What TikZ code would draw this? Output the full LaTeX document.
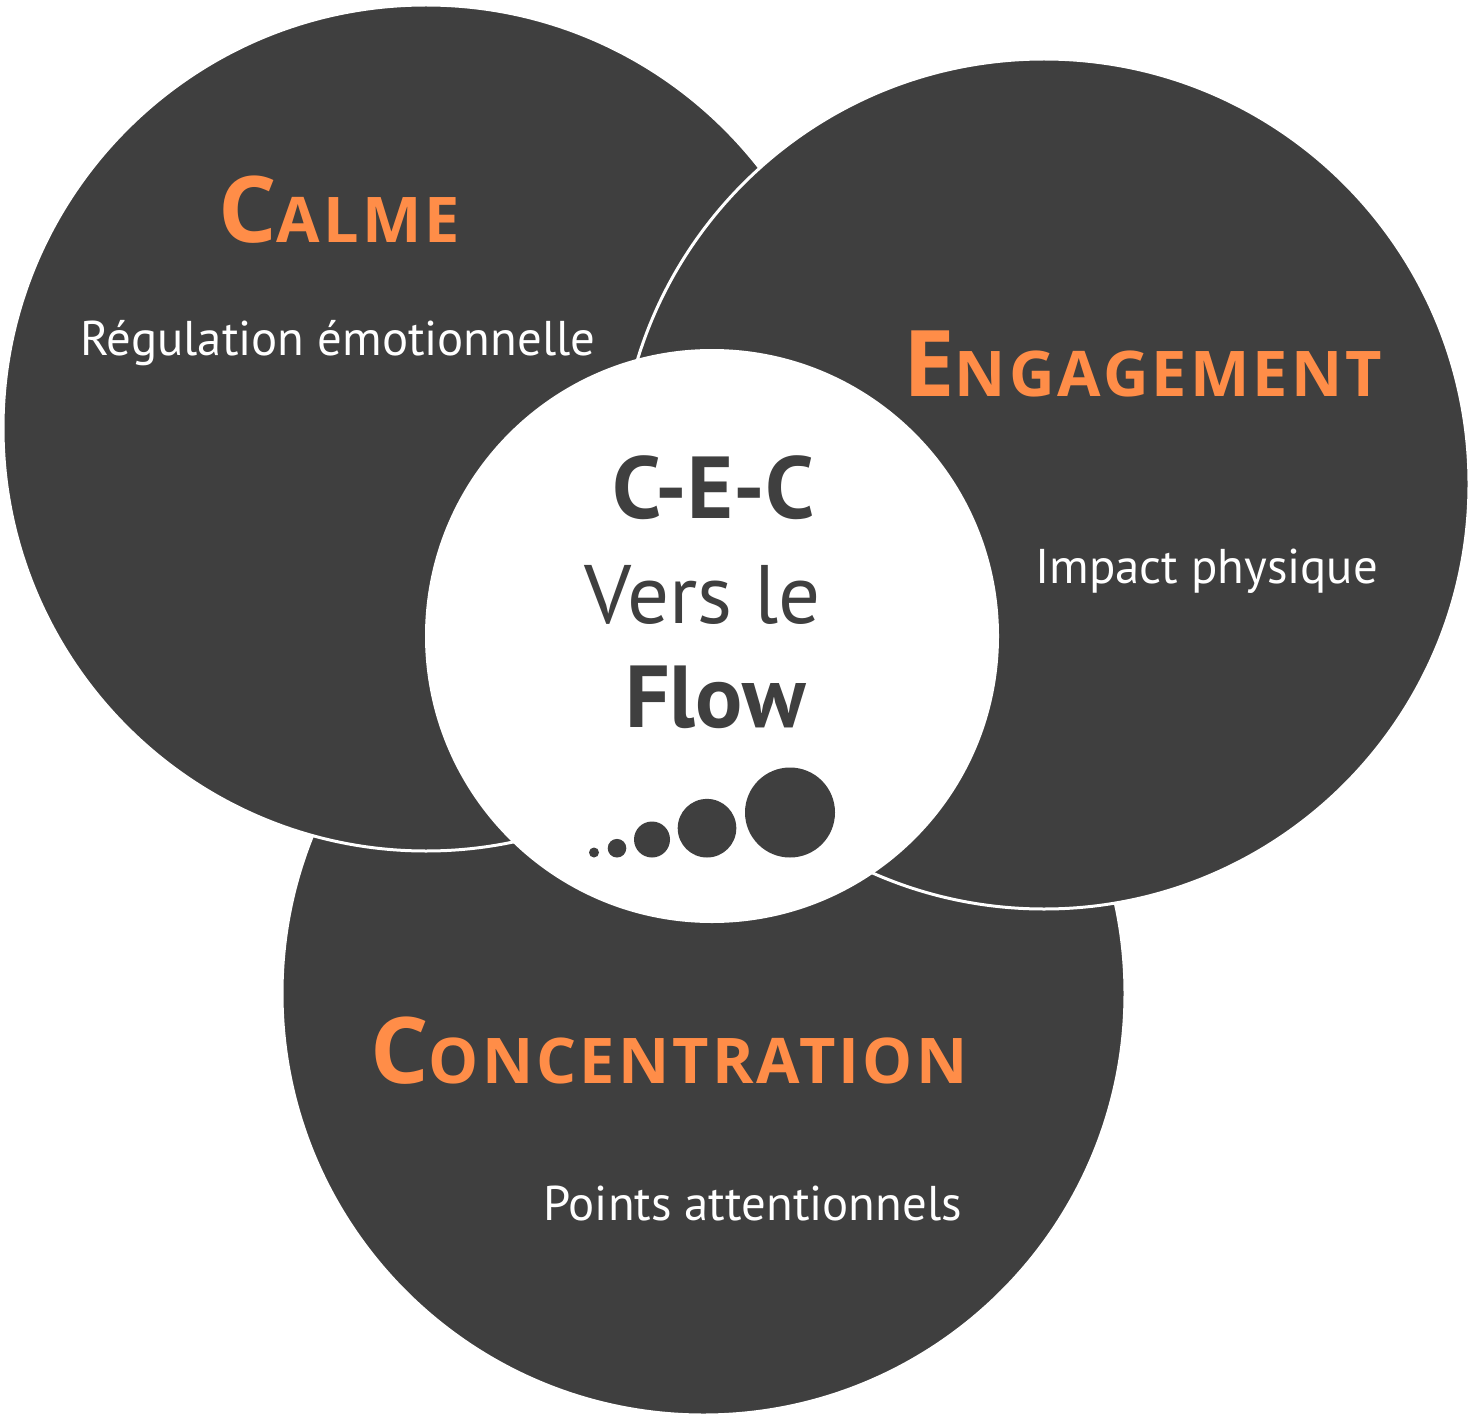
\documentclass[tikz,border=0pt]{standalone}
\usepackage{fontspec}
\setmainfont{PT Sans}
\newfontfamily\titlefont[LetterSpace=5]{Open Sans}
\definecolor{circlegray}{RGB}{63,63,63}
\definecolor{floworange}{RGB}{255,141,72}
\tikzset{
  bigcircle/.style = {shape=circle, fill=circlegray, draw=white,
                      line width=3pt, inner sep=0pt},
  core/.style      = {shape=circle, fill=white, inner sep=0pt},
  title/.style     = {text=floworange, font=\titlefont\bfseries,
                      anchor=base west, inner sep=0pt},
  subtitle/.style  = {text=white, font=\fontsize{48.8}{60}\selectfont,
                      anchor=base west, inner sep=0pt},
  coretext/.style  = {text=circlegray, anchor=base, inner sep=0pt},
  dot/.style       = {shape=circle, fill=circlegray, inner sep=0pt}
}
\newcommand{\sctitle}[2]{{\fontsize{92}{92}\selectfont #1}{\fontsize{63}{63}\selectfont #2}}

\begin{document}
\begin{tikzpicture}[x=1pt, y=-1pt]
  \useasboundingbox (0,0) rectangle (1474,1420);
  % the three circles, bottom one first
  \node [bigcircle, minimum size=843pt] (concentration) at (703.5,993.5) {};
  \node [bigcircle, minimum size=846pt] (calme) at (426,428) {};
  \node [bigcircle, minimum size=850pt] (engagement) at (1044,484) {};
  \node [core, minimum size=574pt] (flow) at (712,636) {};

  \node [title] (calmetitle) at (218,243) {\sctitle{C}{ALME}};
  \node [subtitle] (calmetext) at (80,355) {Régulation émotionnelle};
  \node [title] (engtitle) at (903,396) {\sctitle{E}{NGAGEMENT}};
  \node [subtitle] (engtext) at (1035,583) {Impact physique};
  \node [title] (conctitle) at (370,1083) {\sctitle{C}{ONCENTRATION}};
  \node [subtitle] (conctext) at (543,1220) {Points attentionnels};

  \node [coretext, font=\bfseries\fontsize{88}{88}\selectfont] (cec) at (713.5,518) {C-E-C};
  \node [coretext, font=\fontsize{83}{83}\selectfont] (vers) at (703,623) {Vers le};
  \node [coretext, font=\bfseries\fontsize{88}{88}\selectfont] (flowtext) at (715.5,727) {Flow};

  \foreach \x/\r [count=\i] in {594/5, 617/9.3, 652/18, 707/29.3, 790/45}
    \node [dot, minimum size=2*\r pt] (dot\i) at (\x,857.5-\r) {};
\end{tikzpicture}
\end{document}
